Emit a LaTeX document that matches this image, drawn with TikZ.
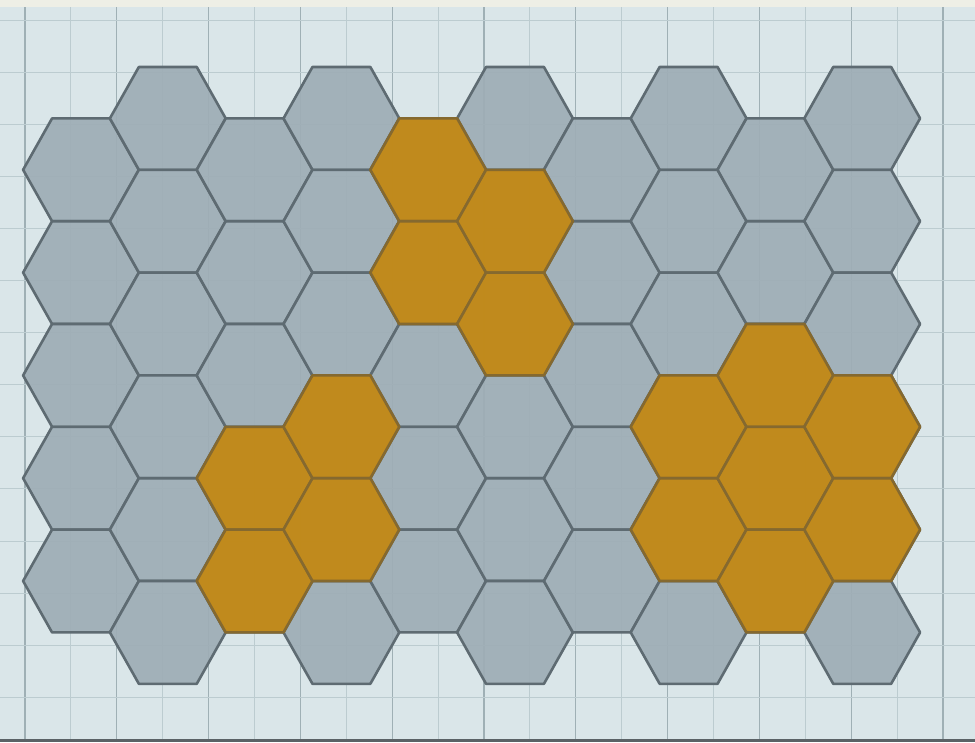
\documentclass[tikz,border=0pt]{standalone}
\definecolor{bg}{HTML}{DAE6E9}
\definecolor{gridmaj}{HTML}{9FB0B5}
\definecolor{gridmin}{HTML}{BCCCD0}
\definecolor{hexgrey}{HTML}{9EADB6}
\definecolor{hexedge}{HTML}{5E6B72}
\definecolor{hexorange}{HTML}{C28918}
\definecolor{orangeedge}{HTML}{85692F}
\definecolor{topband}{HTML}{EEEFE6}
\definecolor{botband}{HTML}{5A6266}
\newcommand\myhex[2]{(#1-57.9,#2) -- (#1-28.95,#2-51.4) -- (#1+28.95,#2-51.4) -- (#1+57.9,#2) -- (#1+28.95,#2+51.4) -- (#1-28.95,#2+51.4) -- cycle}
\tikzset{
  greycell/.style={fill=hexgrey, fill opacity=0.93, draw=hexedge, line width=2.6pt, line join=round},
  orangecell/.style={fill=hexorange, fill opacity=0.97, draw=orangeedge, line width=2.6pt, line join=round},
  majline/.style={draw=gridmaj, line width=1.2pt},
  minline/.style={draw=gridmin, line width=1pt}
}
\begin{document}
\begin{tikzpicture}[x=1pt,y=-1pt]
\useasboundingbox (0,0) rectangle (975,742);
\fill[bg] (0,0) rectangle (975,742);
% background grid
\foreach \i in {0,...,20} {
  \pgfmathsetmacro\xx{25+45.9*\i}
  \pgfmathtruncatemacro\parity{mod(\i,2)}
  \ifnum\parity=0
    \draw[majline] (\xx,0) -- (\xx,742);
  \else
    \draw[minline] (\xx,0) -- (\xx,742);
  \fi
}
\foreach \j in {0,...,13} {
  \pgfmathsetmacro\yy{20+52.1*\j}
  \draw[minline] (0,\yy) -- (975,\yy);
}
\fill[topband] (0,0) rectangle (975,7);
\fill[botband] (0,738.5) rectangle (975,742);
% grey cells
\foreach \c in {0,...,9} {
  \pgfmathsetmacro\cx{81+86.8*\c}
  \pgfmathtruncatemacro\odd{mod(\c,2)}
  \ifnum\odd=1
    \foreach \r in {0,...,5} {
      \pgfmathsetmacro\cy{118.4+102.8*\r}
      \draw[greycell] \myhex{\cx}{\cy};
    }
  \else
    \foreach \r in {0,...,4} {
      \pgfmathsetmacro\cy{169.8+102.8*\r}
      \draw[greycell] \myhex{\cx}{\cy};
    }
  \fi
}
% orange cells
\foreach \c/\r in {2/3,2/4,3/3,3/4,4/0,4/1,5/1,5/2,7/3,7/4,8/2,8/3,8/4,9/3,9/4} {
  \pgfmathsetmacro\cx{81+86.8*\c}
  \pgfmathtruncatemacro\odd{mod(\c,2)}
  \ifnum\odd=1
    \pgfmathsetmacro\cy{118.4+102.8*\r}
  \else
    \pgfmathsetmacro\cy{169.8+102.8*\r}
  \fi
  \draw[orangecell] \myhex{\cx}{\cy};
}
\end{tikzpicture}
\end{document}
